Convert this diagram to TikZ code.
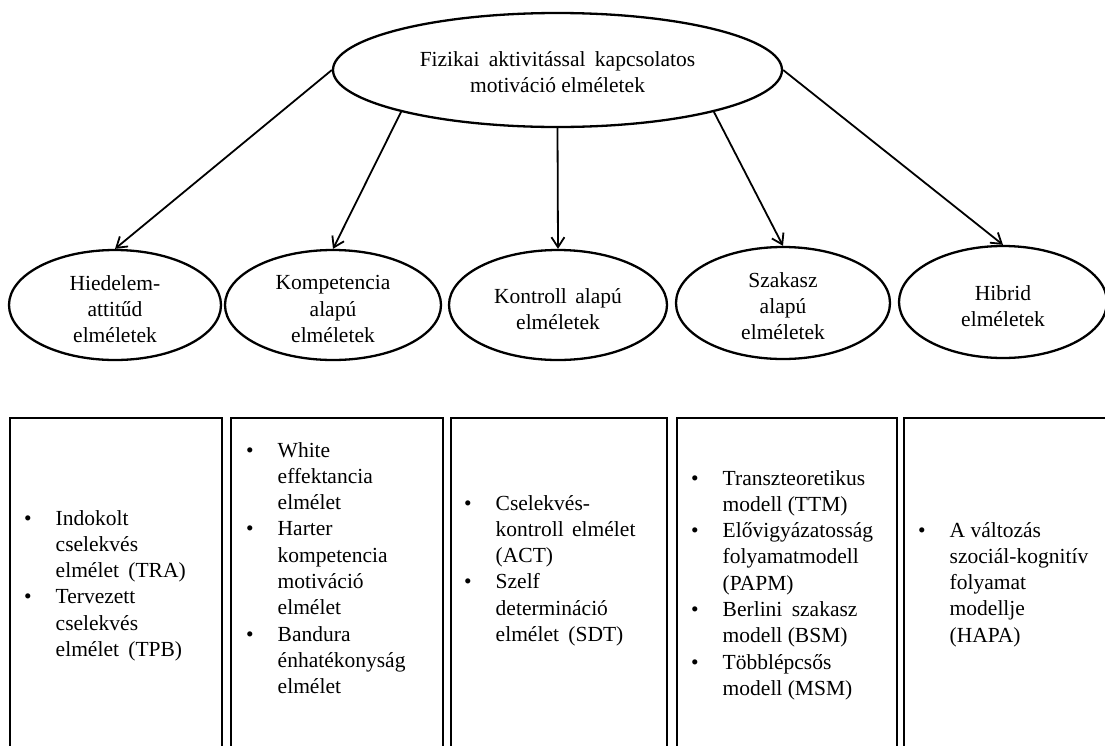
\documentclass[tikz,border=0pt]{standalone}
\usepackage{fontspec}
\setmainfont{Liberation Serif}
\usetikzlibrary{shapes.geometric,arrows.meta}
\newcommand{\blst}[1]{\begin{tabular}[t]{@{}l@{\hspace{24pt}}l@{}}#1\end{tabular}}
\newcommand{\bul}{\textbullet}
\begin{document}
\begin{tikzpicture}[x=1pt,y=-1pt,
  txt/.style={font=\fontsize{21.5}{26.3}\selectfont},
  oval/.style={ellipse, draw, line width=2.3pt, inner sep=0pt},
  ovaltext/.style={txt, align=center, inner sep=0pt},
  frame/.style={draw, line width=2.4pt, rectangle, inner sep=0pt},
  lst/.style={anchor=base west, inner sep=0pt, txt},
  link/.style={line width=1.8pt, -{Straight Barb[length=10pt,width=13pt]}}]
\clip (0,0) rectangle (1105,745);
\fill[white] (0,0) rectangle (1105,745);
% top ellipse
\node[oval, minimum width=449pt, minimum height=114pt,
  label={[ovaltext, yshift=-2pt]center:{Fizikai\hspace{4pt} aktivitással\hspace{4pt} kapcsolatos\\motiváció elméletek}}] (top) at (557.5,70) {};
% category ellipses
\node[oval, minimum width=212pt, minimum height=110pt,
  label={[ovaltext, yshift=-4pt]center:{Hiedelem-\\attitűd\\elméletek}}] (e1) at (115,305) {};
\node[oval, minimum width=216pt, minimum height=110pt,
  label={[ovaltext, yshift=-4pt]center:{Kompetencia\\alapú\\elméletek}}] (e2) at (333,305) {};
\node[oval, minimum width=218pt, minimum height=110pt,
  label={[ovaltext, yshift=-4pt]center:{Kontroll\hspace{3pt} alapú\\elméletek}}] (e3) at (558,305) {};
\node[oval, minimum width=214pt, minimum height=112pt,
  label={[ovaltext, yshift=-3pt]center:{Szakasz\\alapú\\elméletek}}] (e4) at (783,303) {};
\node[oval, minimum width=208pt, minimum height=112pt,
  label={[ovaltext, yshift=-4pt]center:{Hibrid\\elméletek}}] (e5) at (1003,302) {};
% arrows
\draw[link] (top.west) -- (e1.north);
\draw[link] (top.195) -- (e2.north);
\draw[link] (top.south) -- (e3.north);
\draw[link] (top.345) -- (e4.north);
\draw[link] (top.east) -- (e5.north);
% boxes
\node[frame, minimum width=212pt, minimum height=343pt, anchor=north west] (b1) at (9,417) {};
\node[frame, minimum width=212pt, minimum height=343pt, anchor=north west] (b2) at (230,417) {};
\node[frame, minimum width=216pt, minimum height=343pt, anchor=north west] (b3) at (450,417) {};
\node[frame, minimum width=220pt, minimum height=343pt, anchor=north west] (b4) at (676,417) {};
\node[frame, minimum width=212pt, minimum height=343pt, anchor=north west] (b5) at (903,417) {};
% lists
\node[lst] (l1) at (24,525) {\blst{\bul & Indokolt\\ & cselekvés\\ & elmélet\hspace{4pt} (TRA)\\ \bul & Tervezett\\ & cselekvés\\ & elmélet\hspace{4pt} (TPB)}};
\node[lst] (l2) at (246,457) {\blst{\bul & White\\ & effektancia\\ & elmélet\\ \bul & Harter\\ & kompetencia\\ & motiváció\\ & elmélet\\ \bul & Bandura\\ & énhatékonyság\\ & elmélet}};
\node[lst] (l3) at (464,510) {\blst{\bul & Cselekvés-\\ & kontroll\hspace{3pt} elmélet\\ & (ACT)\\ \bul & Szelf\\ & determináció\\ & elmélet\hspace{4pt} (SDT)}};
\node[lst] (l4) at (691,485) {\blst{\bul & Transzteoretikus\\ & modell (TTM)\\ \bul & Elővigyázatosság\\ & folyamatmodell\\ & (PAPM)\\ \bul & Berlini\hspace{4pt} szakasz\\ & modell (BSM)\\ \bul & Többlépcsős\\ & modell (MSM)}};
\node[lst] (l5) at (918,537) {\blst{\bul & A változás\\ & szociál-kognitív\\ & folyamat\\ & modellje\\ & (HAPA)}};
\end{tikzpicture}
\end{document}
